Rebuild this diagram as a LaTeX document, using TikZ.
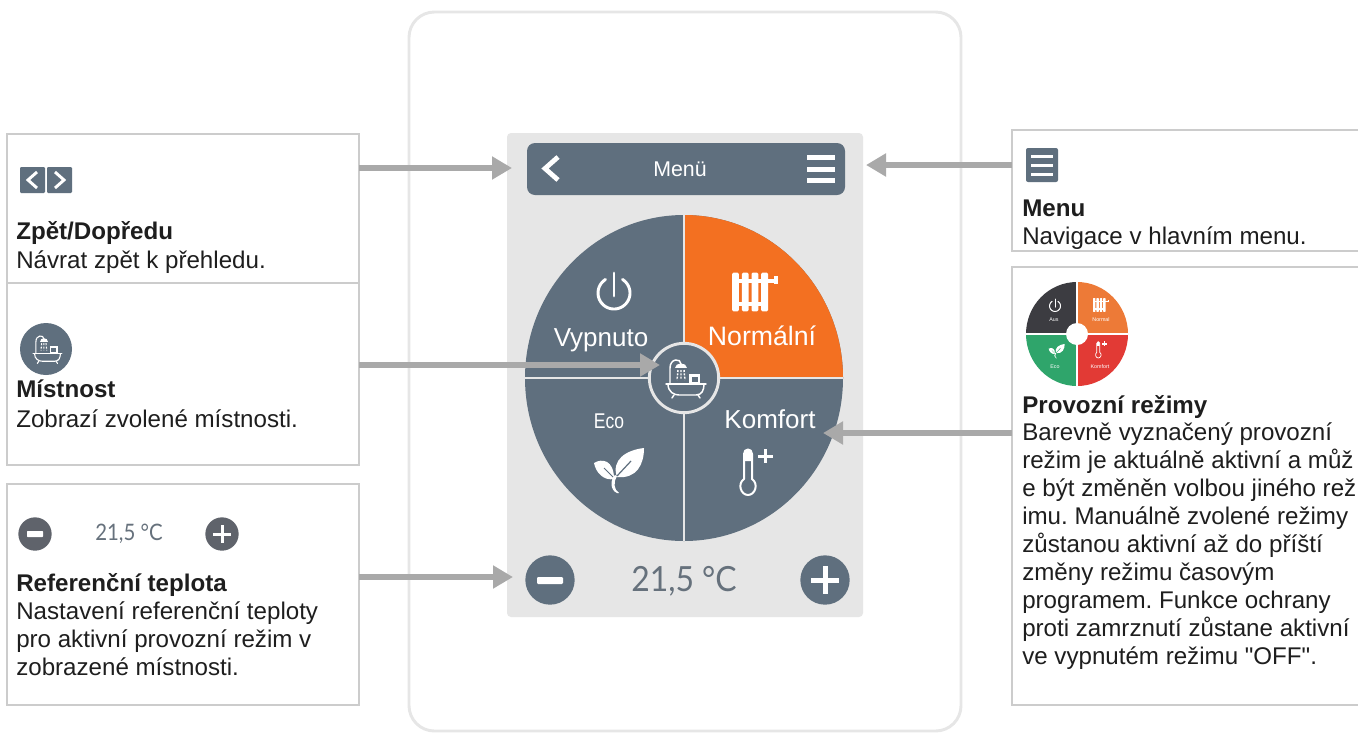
\documentclass[tikz,border=0pt]{standalone}
\usepackage{fontspec}
\setmainfont{Liberation Sans}
\newfontfamily\latofont{Lato}
\newfontfamily\plainfont{Liberation Sans}
\usetikzlibrary{arrows.meta}
\definecolor{slate}{HTML}{5F6F7E}
\definecolor{orangeq}{HTML}{F37021}
\definecolor{panelgray}{HTML}{E6E6E6}
\definecolor{boxline}{HTML}{CCCCCC}
\definecolor{arrowgray}{HTML}{A9A9A9}
\definecolor{btngray}{HTML}{5F636B}
\definecolor{txt}{HTML}{1E1E1E}
\definecolor{tempgray}{HTML}{66717C}
\definecolor{minidark}{HTML}{3C3C41}
\definecolor{miniorange}{HTML}{ED7A37}
\definecolor{minigreen}{HTML}{2FA56B}
\definecolor{minired}{HTML}{E23A35}
\colorlet{iconbg}{slate}
\newcommand{\fs}[2]{\fontsize{#1}{#2}\selectfont}
\tikzset{
  infobox/.style={draw=boxline,line width=1.5pt,fill=white,inner sep=0pt,outer sep=0pt,rectangle},
  arr/.style={draw=arrowgray,line width=5pt,-{Triangle[length=15pt,width=16.5pt]}},
  infotitle/.style={anchor=base west,inner sep=0pt,text=txt,font=\fs{18.1}{18}\bfseries},
  infotext/.style={anchor=base west,inner sep=0pt,text=txt,align=left},
  bodyfont/.style={font=\fs{18.1}{21}\frenchspacing},
  wheeltext/.style={inner sep=0pt,text=white,font=\fs{19.5}{20}},
  minitext/.style={inner sep=0pt,text=white,font=\fs{4}{4}},
  roundbtn/.style={circle,fill=#1,inner sep=0pt,draw=none},
  power/.pic={
    \draw[white,line cap=round,line width=2.2pt*\pgfkeysvalueof{/tikz/iconscale}]
      plot[domain=-58:238,samples=40,smooth] ({16*cos(\x)},{16*sin(\x)});
    \draw[white,line cap=round,line width=2.2pt*\pgfkeysvalueof{/tikz/iconscale}] (0,-20) -- (0,3);
  },
  radiator/.pic={
    \foreach \c in {-17,-7,3,13}{\fill[white,rounded corners=1pt*\pgfkeysvalueof{/tikz/iconscale}] (\c-3.5,-20) rectangle (\c+3.5,20);}
    \fill[white] (-20,-13) rectangle (27,-9);
    \fill[white] (-20,10) rectangle (16,14);
    \fill[white] (23,-16) rectangle (27,-8);
  },
  leafic/.pic={
    \fill[white] (-3,7) .. controls (-9,-10) and (6,-20) .. (24,-22) .. controls (24,-6) and (17,9) .. (-3,7) -- cycle;
    \fill[white] (-26,-7) .. controls (-18,-12) and (-6,-10) .. (-6,9) .. controls (-16,11) and (-24,3) .. (-26,-7) -- cycle;
    \fill[white] (-3,6) .. controls (-7,12) and (-6,20) .. (-1,23) -- (-3,23) .. controls (-10,20) and (-10,10) .. (-5,5) -- cycle;
    \draw[iconbg,line width=.9pt*\pgfkeysvalueof{/tikz/iconscale}] (-3,6) -- (11,-9);
    \draw[iconbg,line width=.7pt*\pgfkeysvalueof{/tikz/iconscale}] (-7,7) -- (-16,-2);
  },
  thermo/.pic={
    \draw[white,line width=1.5pt*\pgfkeysvalueof{/tikz/iconscale},line join=round]
      (-6,-16) .. controls (-6,-22) and (2,-22) .. (2,-16) -- (2,9)
      .. controls (9,14) and (5,25) .. (-2,25) .. controls (-9,25) and (-13,14) .. (-6,9) -- cycle;
    \fill[white] (-6,-16) .. controls (-6,-22) and (2,-22) .. (2,-16) -- (2,-9) -- (-6,-9) -- cycle;
    \fill[white] (8,-15.5) rectangle (23,-12.5);
    \fill[white] (14,-21) rectangle (17,-7);
  },
  bath/.pic={
    \begin{scope}[white,line width=1.1pt*\pgfkeysvalueof{/tikz/iconscale}]
      \draw (-14,6) -- (-14,-10) .. controls (-14,-20) and (-3,-20) .. (-3,-14);
      \fill (-9,-10) .. controls (-9,-16) and (3,-16) .. (3,-10) -- cycle;
      \draw[dash pattern=on 1.5pt off 1pt] (-6,-8) -- (-7,2) (-3,-8) -- (-3,2) (0,-8) -- (1,2);
      \draw[line cap=round] (-18,6) -- (22,6);
      \draw (-16,6) .. controls (-16,14) and (-10,17) .. (-5,17) -- (12,17) .. controls (18,17) and (20,12) .. (20,6);
      \draw[line cap=round] (-10,17) -- (-12,20) (14,17) -- (16,20);
      \fill (5,-4) rectangle (16,6);
      \fill[iconbg] (7.5,-1) rectangle (13.5,3.5);
    \end{scope}
  },
  iconscale/.initial=1,
}
\begin{document}
\begin{tikzpicture}[x=.75pt,y=-.75pt]
\useasboundingbox (0,0) rectangle (1358,732);
\begin{scope}
\clip (0,0) rectangle (1358,732);

% device outline
\draw[draw=panelgray,line width=2.2pt,fill=white,rounded corners=19pt] (409,12) rectangle (961,731);

% central panel
\fill[panelgray,rounded corners=3pt] (507,133) rectangle (863,617);

% header
\node[fill=slate,rounded corners=6pt,minimum width=238.5pt,minimum height=39pt,inner sep=0pt,outer sep=0pt,anchor=north west] (header) at (527,143) {};
\node[inner sep=0pt,text=white,font=\fs{16}{16}] (menulabel) at (680,169) {Menü};
\draw[white,line width=3.6pt] (558,157) -- (545,168.5) -- (558,180);
\foreach \yy in {157,169,180}{\fill[white] (807,\yy-2.5) rectangle (835,\yy+2.5);}

% wheel
\begin{scope}
  \clip (684,378) ellipse [x radius=159,y radius=163];
  \fill[slate] (520,210) rectangle (850,545);
  \fill[orangeq] (684,378) rectangle (850,210);
\end{scope}
\draw[panelgray,line width=2.2pt] (525,378) -- (843,378);
\draw[panelgray,line width=2.2pt] (684,215) -- (684,541);
\node[circle,fill=slate,draw=panelgray,line width=2.2pt,minimum size=52pt,inner sep=0pt] (hub) at (684,378) {};
\pic[iconscale=1] at (684,378) {bath};

\pic at (614,293) {power};
\pic[scale=.97] at (752,292) {radiator};
\pic at (620,470) {leafic};
\pic at (750,470) {thermo};

\node[wheeltext] (vyp) at (601,340) {Vypnuto};
\node[wheeltext,font=\fs{20}{21}] (nor) at (762,336) {Normální};
\node[wheeltext] (kom) at (770,419) {Komfort};
\node[wheeltext,font=\fs{16}{16},xscale=.82] (eco) at (609,421) {Eco};

% temperature row
\node[roundbtn=slate,minimum size=37pt] (minusb) at (550,580) {};
\fill[white,rounded corners=.8pt] (537,577) rectangle (563,584);
\node[roundbtn=slate,minimum size=37pt] (plusb) at (825,580) {};
\fill[white] (811,577.5) rectangle (839,582.5);
\fill[white] (822.5,566) rectangle (827.5,594);
\node[inner sep=0pt,text=tempgray,font=\latofont\fs{26}{27},xscale=.92] (temp) at (684,581) {21,5 °C};

% left boxes
\node[infobox,anchor=north west,minimum width=264pt,minimum height=112pt] (zpet) at (7,134) {};
\node[infobox,anchor=north west,minimum width=264pt,minimum height=136.5pt] (mist) at (7,283) {};
\node[infobox,anchor=north west,minimum width=264pt,minimum height=165.75pt] (refb) at (7,484) {};

% right boxes
\node[infobox,anchor=north west,minimum width=270pt,minimum height=90.75pt] (menub) at (1012,130) {};
\node[infobox,anchor=north west,minimum width=270pt,minimum height=328.5pt] (provb) at (1012,267) {};

% arrows
\coordinate (tipzpet) at (512,168);
\coordinate (tipmist) at (660,365);
\coordinate (tipref) at (513,577);
\coordinate (tipmenu) at (866,165);
\coordinate (tipprov) at (823,433);
\draw[arr] (zpet.east |- tipzpet) -- (tipzpet);
\draw[arr] (mist.east |- tipmist) -- (tipmist);
\draw[arr] (refb.east |- tipref) -- (tipref);
\draw[arr] (menub.west |- tipmenu) -- (tipmenu);
\draw[arr] (provb.west |- tipprov) -- (tipprov);

% zpet icons
\fill[slate,rounded corners=.8pt] (20,167) rectangle (45,193);
\fill[slate,rounded corners=.8pt] (47,167) rectangle (72,193);
\draw[white,line width=2.2pt] (37,172) -- (28,180) -- (37,188);
\draw[white,line width=2.2pt] (55,172) -- (64,180) -- (55,188);
\node[infotitle] (zt) at (16,239) {Zpět/Dopředu};
\node[infotext,bodyfont] (zb) at (16,268) {Návrat zpět k přehledu.};

% mistnost
\node[roundbtn=slate,minimum size=39pt] (mc) at (46,349) {};
\pic[scale=.72,iconscale=.75] at (46,349) {bath};
\node[infotitle] (mt) at (16,397) {Místnost};
\node[infotext,bodyfont] (mb) at (16,427) {Zobrazí zvolené místnosti.};

% reference
\node[roundbtn=btngray,minimum size=25pt] (sm) at (35,534) {};
\fill[white,rounded corners=.5pt] (27,531) rectangle (43,537);
\node[roundbtn=btngray,minimum size=25pt] (sp) at (222,534) {};
\fill[white] (213,532.5) rectangle (231,535.5);
\fill[white] (220.5,525) rectangle (223.5,543);
\node[inner sep=0pt,text=tempgray,font=\latofont\fs{17}{18},xscale=.9] (stemp) at (129,534) {21,5 °C};
\node[infotitle] (rt) at (16,591) {Referenční teplota};
\node[infotext,bodyfont] (rb) at (16,675) {Nastavení referenční teploty\\pro aktivní provozní režim v\\zobrazené místnosti.};

% menu
\fill[slate,rounded corners=1.5pt] (1026,148) rectangle (1058,182);
\foreach \yy in {156,165,174}{\fill[white] (1031,\yy-1.5) rectangle (1053,\yy+1.5);}
\node[infotitle] (met) at (1022,216) {Menu};
\node[infotext,bodyfont] (meb) at (1022,244) {Navigace v hlavním menu.};

% provozni mini wheel
\begin{scope}
  \clip (1077,334) ellipse [x radius=51,y radius=52];
  \fill[minidark] (1020,275) rectangle (1077,334);
  \fill[miniorange] (1077,275) rectangle (1135,334);
  \fill[minigreen] (1020,334) rectangle (1077,392);
  \fill[minired] (1077,334) rectangle (1135,392);
\end{scope}
\draw[white,line width=.8pt] (1026,334) -- (1128,334) (1077,282) -- (1077,386);
\node[circle,fill=white,minimum size=16.5pt,inner sep=0pt] (minihub) at (1077,334) {};
\pic[scale=.34,iconscale=.34] at (1055,306) {power};
\pic[scale=.34,iconscale=.34] at (1100,305) {radiator};
\colorlet{iconbg}{minigreen}
\pic[scale=.32,iconscale=.32] at (1057,351) {leafic};
\pic[scale=.36,iconscale=.36] at (1099,349) {thermo};
\node[minitext] (m1) at (1054,320) {Aus};
\node[minitext] (m2) at (1101,320) {Normal};
\node[minitext] (m3) at (1055,367) {Eco};
\node[minitext] (m4) at (1100,367) {Komfort};
\node[infotitle] (pt) at (1022,413) {Provozní režimy};
\node[infotext,bodyfont] (pb) at (1022,664) {Barevně vyznačený provozní\\režim je aktuálně aktivní a můž\\e být změněn volbou jiného rež\\imu. Manuálně zvolené režimy\\zůstanou aktivní až do příští\\změny režimu časovým\\programem. Funkce ochrany\\proti zamrznutí zůstane aktivní\\ve vypnutém režimu {\plainfont"OFF"}.};
\end{scope}
\end{tikzpicture}
\end{document}
